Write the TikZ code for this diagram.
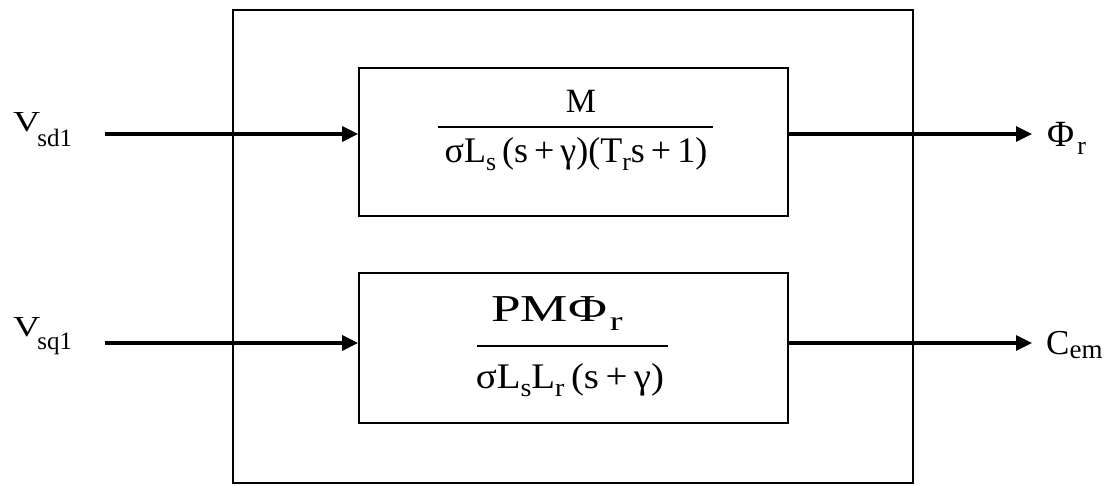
\documentclass[tikz,border=0pt]{standalone}
\usepackage{fontspec}
\setmainfont{Liberation Serif}
\usetikzlibrary{arrows.meta}
\newcommand\lo[2][0.35ex]{\raisebox{-#1}{\scalebox{0.72}{#2}}}
\newcommand\pl{\,+\,}
\newcommand\sz[2]{{\fontsize{#1}{#1}\selectfont #2}}
\begin{document}
\begin{tikzpicture}[x=1pt,y=1pt,
  blk/.style={draw,line width=1.7pt},
  sig/.style={line width=3.2pt,-{Triangle[length=16pt,width=15pt]}},
  bar/.style={line width=2pt},
  lab/.style={inner sep=0pt,anchor=base west},
  frac/.style={inner sep=0pt,anchor=base,font=\fontsize{36}{38}\selectfont}]
\useasboundingbox (0,0) rectangle (1109,486);
% outer box
\draw[blk] (233,476) rectangle (913,3);
% inner boxes
\node[blk,minimum width=429pt,minimum height=148pt,inner sep=0pt] (top) at (573.5,344) {};
\node[blk,minimum width=429pt,minimum height=150pt,inner sep=0pt] (bot) at (573.5,138) {};
% fractions
\node[frac,font=\fontsize{34}{36}\selectfont] (n1) at (581,373) {M};
\coordinate (b1l) at (438,359);
\coordinate (b1r) at (713,359);
\draw[bar] (b1l) -- (b1r);
\node[frac] (d1) at (576,323) {σL\lo[0.45ex]{s}\,(s\pl γ)(T\lo[0.45ex]{r}s\pl 1)};
\node[frac,font=\fontsize{38}{40}\selectfont] (n2) at (557,164) {\scalebox{1.4}[1]{PMΦ\kern2pt\lo[0.5ex]{r}}};
\coordinate (b2l) at (477,140);
\coordinate (b2r) at (668,140);
\draw[bar] (b2l) -- (b2r);
\node[frac] (d2) at (570,97) {\scalebox{1.08}[1]{σL\lo[0.45ex]{s}L\lo[0.45ex]{r}\,(s\pl γ)}};
% labels
\node[lab] (vsd) at (13,354) {\scalebox{1.3}[1]{\sz{29}{V}}\kern-3pt\raisebox{-15pt}{\sz{25}{sd1}}};
\node[lab] (vsq) at (13,149) {\scalebox{1.3}[1]{\sz{29}{V}}\kern-3pt\raisebox{-13pt}{\sz{25}{sq1}}};
\node[lab] (phi) at (1047,339) {\sz{37}{Φ}\kern3pt\raisebox{-8pt}{\sz{26}{r}}};
\node[lab] (cem) at (1046,131) {\sz{35}{C}\raisebox{-4pt}{\sz{27}{em}}};
% signals
\coordinate (a1) at (105,352);
\coordinate (a2) at (105,143);
\coordinate (o1) at (1032,352);
\coordinate (o2) at (1032,143);
\draw[sig] (a1) -- (a1 -| top.west);
\draw[sig] (a1 -| top.east) -- (o1);
\draw[sig] (a2) -- (a2 -| bot.west);
\draw[sig] (a2 -| bot.east) -- (o2);
\end{tikzpicture}
\end{document}
